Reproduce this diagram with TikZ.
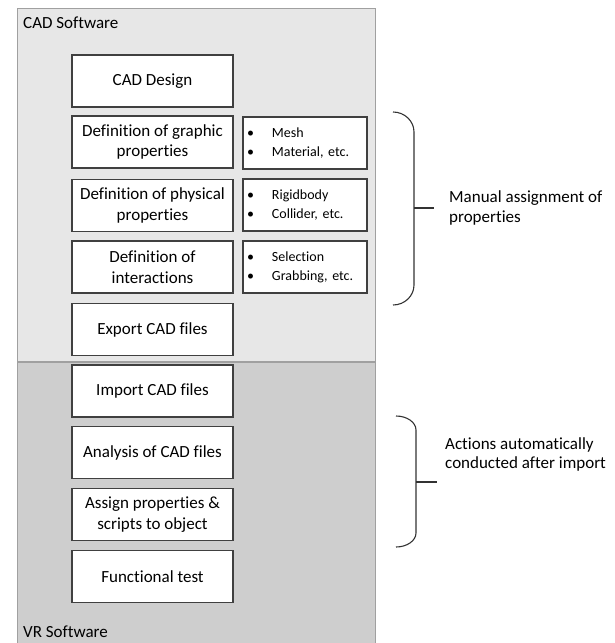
\documentclass[tikz,border=0pt]{standalone}
\usepackage{fontspec}
\setmainfont{Carlito}[Ligatures=NoCommon]
\definecolor{cadfill}{RGB}{231,231,231}
\definecolor{vrfill}{RGB}{206,206,206}
\definecolor{regionline}{RGB}{160,160,160}
\definecolor{boxline}{RGB}{64,64,64}
\definecolor{braceline}{RGB}{50,50,50}
\begin{document}
\begin{tikzpicture}[x=1pt,y=-1pt,
  region/.style={draw=regionline,line width=0.9pt},
  regionlabel/.style={anchor=base west,inner sep=0pt,font=\fontsize{17}{20}\selectfont},
  stepbox/.style={draw=boxline,fill=white,line width=1.1pt,minimum width=161pt,
    minimum height=52pt,inner sep=2pt,align=center,font=\fontsize{17}{20.5}\selectfont},
  listbox/.style={draw=boxline,fill=white,line width=1.1pt,minimum width=124pt,
    minimum height=52pt,inner xsep=4pt,inner ysep=2pt,text width=116pt,align=left,
    font=\fontsize{14}{19}\selectfont},
  brace/.style={draw=braceline,line width=1.1pt},
  note/.style={anchor=base west,inner sep=0pt,align=left,font=\fontsize{17}{19.5}\selectfont}]
\useasboundingbox (0,0) rectangle (615,643);
\newcommand{\itm}[1]{\makebox[25pt][l]{\textbullet}#1}

% software regions
\fill[vrfill] (17,362) rectangle (375,650);
\draw[region] (17,650) -- (17,362) -- (375,362) -- (375,650);
\draw[region,fill=cadfill] (17,8) rectangle (375,361);
\node[regionlabel] (cadlbl) at (23,28) {CAD Software};
\node[regionlabel] (vrlbl) at (23,637) {VR Software};

% CAD workflow
\node[stepbox] (design)  at (152.5,81)   {CAD Design};
\node[stepbox] (graphic) at (152.5,142)  {Definition of graphic\\properties};
\node[stepbox] (physic)  at (152.5,205.5){Definition of physical\\properties};
\node[stepbox] (inter)   at (152.5,267)  {Definition of\\interactions};
\node[stepbox] (export)  at (152.5,329.5){Export CAD files};

\node[listbox] (lgraphic) at (305,143) {\itm{Mesh}\\\itm{Material, etc.}};
\node[listbox] (lphysic)  at (305,205) {\itm{Rigidbody}\\\itm{Collider, etc.}};
\node[listbox] (linter)   at (305,267) {\itm{Selection}\\\itm{Grabbing, etc.}};

% VR workflow
\node[stepbox] (import)   at (152.5,391)  {Import CAD files};
\node[stepbox] (analysis) at (152.5,452.5){Analysis of CAD files};
\node[stepbox] (assign)   at (152.5,514.5){Assign properties \&\\scripts to object};
\node[stepbox] (test)     at (152.5,576.5){Functional test};

% braces with annotations (note anchors sit on the last baseline)
\draw[brace] (393,112) .. controls (404.6,112) and (414,121) .. (414,132)
  -- (414,285) .. controls (414,296) and (404.6,305) .. (393,305);
\draw[brace] (414,208) -- (434,208);
\node[note] (manual) at (449,222) {Manual assignment of\\properties};

\draw[brace] (396,416) .. controls (407,416) and (416,422.3) .. (416,430)
  -- (416,533) .. controls (416,540.7) and (407,547) .. (396,547);
\draw[brace] (416,482) -- (437,482);
\node[note] (auto) at (445,468.5) {Actions automatically\\conducted after import};
\end{tikzpicture}
\end{document}
